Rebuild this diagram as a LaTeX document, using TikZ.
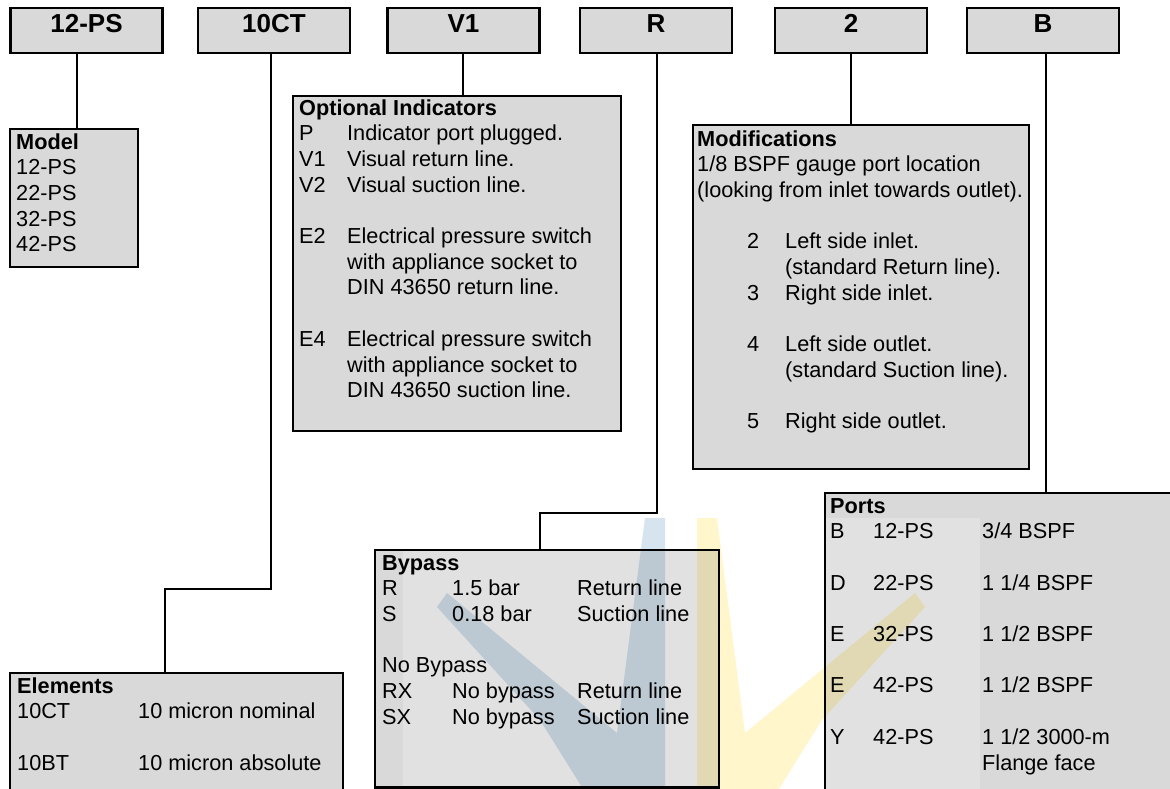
\documentclass[tikz,border=0pt]{standalone}
\usepackage{fontspec}
\setmainfont{Liberation Sans}
\definecolor{boxgray}{RGB}{217,217,217}
\definecolor{wmblue}{RGB}{214,228,239}
\definecolor{wmyellow}{RGB}{255,246,203}
\tikzset{
  codebox/.style={draw=black, line width=2.4pt, fill=boxgray, minimum width=152pt,
    minimum height=45pt, inner sep=0pt, text height=18pt, text depth=14pt,
    font=\fontsize{26}{30}\selectfont\bfseries},
  infobox/.style={draw=black, line width=2.4pt, fill=boxgray, inner sep=0pt, outer sep=0pt, anchor=north west},
  conn/.style={line width=2.4pt, draw=black},
  txt/.style={anchor=base west, inner sep=0pt, font=\fontsize{21.7}{25.7}\selectfont},
  lighten/.style={fill=white, fill opacity=0.22},
}
\begin{document}
\begin{tikzpicture}[x=1pt,y=-1pt]
\useasboundingbox (0,0) rectangle (1170,788);
\clip (0,0) rectangle (1170,788);
\fill[white] (0,0) rectangle (1170,788);
% code boxes
\node[codebox] (cA) at (86.5,30.5) {12-PS};
\node[codebox] (cB) at (274,30.5) {10CT};
\node[codebox] (cC) at (463.5,30.5) {V1};
\node[codebox] (cD) at (656,30.5) {R};
\node[codebox] (cE) at (851,30.5) {2};
\node[codebox] (cF) at (1043,30.5) {B};
% info boxes
\node[infobox, minimum width=128pt, minimum height=138pt] (model) at (10,129) {};
\node[infobox, minimum width=328pt, minimum height=335pt] (optind) at (293,96) {};
\node[infobox, minimum width=336pt, minimum height=344pt] (modif) at (693,125) {};
\node[infobox, minimum width=360pt, minimum height=320pt] (ports) at (825,493) {};
\node[infobox, minimum width=344pt, minimum height=237.5pt] (bypass) at (375,550) {};
\node[infobox, minimum width=333pt, minimum height=140pt] (elements) at (10,673) {};
% connectors
\coordinate (kA) at (77,53);
\draw[conn] (kA) -- (kA |- model.north);
\coordinate (kB) at (271,53);
\coordinate (kB2) at (271,589);
\coordinate (kB3) at (165,589);
\draw[conn] (kB) -- (kB2) -- (kB3) -- (kB3 |- elements.north);
\coordinate (kC) at (463,53);
\draw[conn] (kC) -- (kC |- optind.north);
\coordinate (kD) at (657,53);
\coordinate (kD2) at (657,513);
\coordinate (kD3) at (540,513);
\draw[conn] (kD) -- (kD2) -- (kD3) -- (kD3 |- bypass.north);
\coordinate (kE) at (851,53);
\draw[conn] (kE) -- (kE |- modif.north);
\coordinate (kF) at (1046,53);
\draw[conn] (kF) -- (kF |- ports.north);
% faint lighter zone of the watermark inside the boxes
\fill[lighten] (403,551.2) rectangle (717.8,786.3);
\fill[lighten] (826.2,518) rectangle (980,800);
% texts
\node[txt] (tmodel) at (16,149) {\parbox[t]{120pt}{\raggedright\textbf{Model}\\12-PS\\22-PS\\32-PS\\42-PS}};
\node[txt] (toptind) at (299,115) {\parbox[t]{320pt}{\raggedright\textbf{Optional Indicators}\\
\makebox[48pt][l]{P}Indicator port plugged.\\
\makebox[48pt][l]{V1}Visual return line.\\
\makebox[48pt][l]{V2}Visual suction line.\\
\mbox{}\\
\makebox[48pt][l]{E2}Electrical pressure switch\\
\hspace*{48pt}with appliance socket to\\
\hspace*{48pt}DIN 43650 return line.\\
\mbox{}\\
\makebox[48pt][l]{E4}Electrical pressure switch\\
\hspace*{48pt}with appliance socket to\\
\hspace*{48pt}DIN 43650 suction line.}};
\node[txt] (tmodif) at (697,146) {\parbox[t]{330pt}{\raggedright\textbf{Modifications}\\
1/8 BSPF gauge port location\\
(looking from inlet towards outlet).\\
\mbox{}\\
\hspace*{50pt}\makebox[38pt][l]{2}Left side inlet.\\
\hspace*{88pt}(standard Return line).\\
\hspace*{50pt}\makebox[38pt][l]{3}Right side inlet.\\
\mbox{}\\
\hspace*{50pt}\makebox[38pt][l]{4}Left side outlet.\\
\hspace*{88pt}(standard Suction line).\\
\mbox{}\\
\hspace*{50pt}\makebox[38pt][l]{5}Right side outlet.}};
\node[txt] (tports) at (830,513) {\parbox[t]{340pt}{\raggedright\textbf{Ports}\\
\makebox[43pt][l]{B}\makebox[109pt][l]{12-PS}3/4 BSPF\\
\mbox{}\\
\makebox[43pt][l]{D}\makebox[109pt][l]{22-PS}1 1/4 BSPF\\
\mbox{}\\
\makebox[43pt][l]{E}\makebox[109pt][l]{32-PS}1 1/2 BSPF\\
\mbox{}\\
\makebox[43pt][l]{E}\makebox[109pt][l]{42-PS}1 1/2 BSPF\\
\mbox{}\\
\makebox[43pt][l]{Y}\makebox[109pt][l]{42-PS}1 1/2 3000-m\\
\hspace*{152pt}Flange face}};
\node[txt] (tbypass) at (382,570) {\parbox[t]{330pt}{\raggedright\textbf{Bypass}\\
\makebox[70pt][l]{R}\makebox[125pt][l]{1.5 bar}Return line\\
\makebox[70pt][l]{S}\makebox[125pt][l]{0.18 bar}Suction line\\
\mbox{}\\
No Bypass\\
\makebox[70pt][l]{RX}\makebox[125pt][l]{No bypass}Return line\\
\makebox[70pt][l]{SX}\makebox[125pt][l]{No bypass}Suction line}};
\node[txt] (telements) at (17,693) {\parbox[t]{320pt}{\raggedright\textbf{Elements}\\
\makebox[121pt][l]{10CT}10 micron nominal\\
\mbox{}\\
\makebox[121pt][l]{10BT}10 micron absolute}};
% watermark
\fill[wmblue, blend mode=multiply] (437,607) -- (447,593) -- (617,733) -- (645,518) -- (665,518)
  -- (665,800) -- (590,800) -- (540,720) -- cycle;
\fill[wmyellow, blend mode=multiply] (925,607) -- (915,593) -- (745,733) -- (717,518) -- (697,518)
  -- (697,800) -- (772,800) -- (822,720) -- cycle;
\end{tikzpicture}
\end{document}
